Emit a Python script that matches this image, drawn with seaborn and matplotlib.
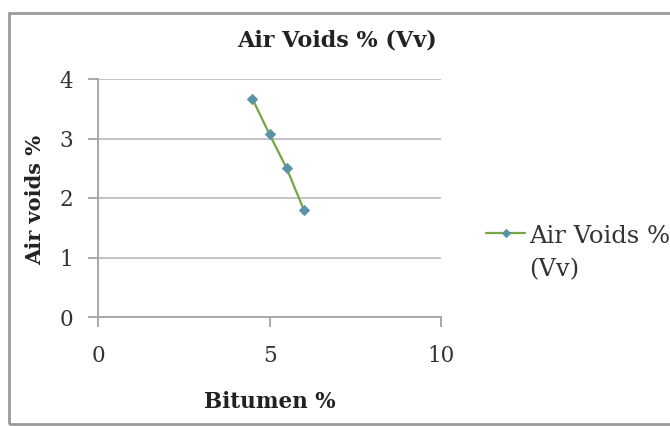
import matplotlib
matplotlib.use("Agg")
import matplotlib.pyplot as plt
import seaborn as sns
import pandas as pd
from matplotlib.patches import Rectangle

bitumen = [4.5, 5.0, 5.5, 6.0]
air_voids = [3.67, 3.07, 2.50, 1.80]
series_name = "Air Voids % (Vv)"
x_ticks = [0, 5, 10]
y_ticks = [0, 1, 2, 3, 4]

sns.set_theme(style="white")
plt.rcParams['font.family'] = ['DejaVu Serif', 'Liberation Serif']

df = pd.DataFrame({"Bitumen %": bitumen, "Air voids %": air_voids})

fig = plt.figure(figsize=(6.7, 4.26), dpi=100)
fig.patch.set_facecolor("white")
ax = fig.add_axes([98/670, 1-317/426, (441-98)/670, (317-79)/426])

sns.lineplot(data=df, x="Bitumen %", y="Air voids %", ax=ax, color="#76a544",
             linewidth=1.6, marker="D", markersize=5, markerfacecolor="#5a93a8",
             markeredgecolor="#5a93a8", label="Air Voids %\n(Vv)")

ax.set_xlim(0, 10)
ax.set_ylim(0, 4)
ax.set_xticks(x_ticks)
ax.set_yticks(y_ticks)
ax.yaxis.grid(True, color="#c4c4c4", linewidth=1.4)
ax.xaxis.grid(False)
for s in ["top", "right"]:
    ax.spines[s].set_visible(False)
for s in ["left", "bottom"]:
    ax.spines[s].set_color("#a8a8a8")
    ax.spines[s].set_linewidth(1.4)
ax.tick_params(axis="both", which="both", length=7, width=1.4, color="#a8a8a8",
               labelsize=15.5, labelcolor="#333333", direction="out",
               bottom=True, left=True)
ax.tick_params(axis="x", pad=13)
ax.tick_params(axis="y", pad=11)

ax.set_xlabel("")
ax.set_ylabel("")
fig.text(270/670, 1-402/426, "Bitumen %", ha="center", va="center",
         fontsize=15.5, fontweight="bold", color="#222222")
fig.text(35/670, 1-200/426, "Air voids %", ha="center", va="center",
         rotation=90, fontsize=15, fontweight="bold", color="#222222")
fig.text(337/670, 1-41/426, series_name, ha="center", va="center",
         fontsize=16, fontweight="bold", color="#222222")

leg = ax.legend(loc="center left", bbox_to_anchor=(1.068, 0.269), frameon=False,
                fontsize=17.5, handlelength=1.6, handletextpad=0.15,
                labelcolor="#333333", labelspacing=0.6, markerscale=0.8)
for t in leg.get_texts():
    t.set_linespacing(1.6)


def set_top(box):
    for child in box.get_children():
        if type(child).__name__ == "HPacker":
            child.align = "top"
        if hasattr(child, "get_children"):
            set_top(child)


set_top(leg._legend_handle_box)

fig.patches.append(Rectangle((9/670, 2/426), 670/670, 1-13/426 - 2/426,
                             transform=fig.transFigure, fill=False,
                             edgecolor="#9a9a9a", linewidth=2.0))

fig.savefig("out.png", dpi=100, facecolor="white")
